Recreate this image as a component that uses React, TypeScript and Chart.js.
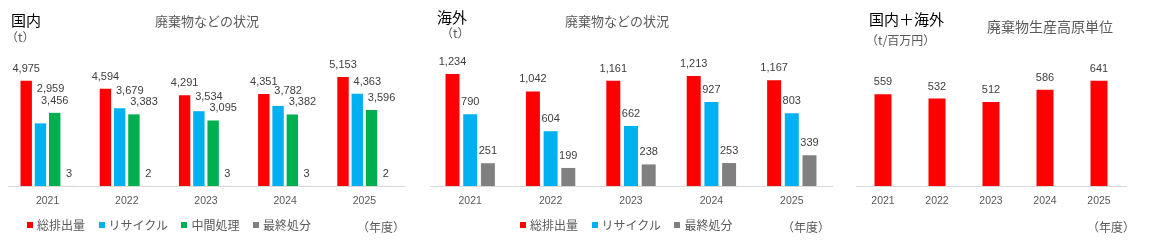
import React, { useEffect, useRef } from 'react';
import { Chart, registerables } from 'chart.js';

Chart.register(...registerables);

// ---------- data ----------
const years = ['2021', '2022', '2023', '2024', '2025'];

const domesticTotal = [4975, 4594, 4291, 4351, 5153];
const domesticRecycle = [2959, 3679, 3534, 3782, 4363];
const domesticIntermediate = [3456, 3383, 3095, 3382, 3596];
const domesticFinal = [3, 2, 3, 3, 2];

const overseasTotal = [1234, 1042, 1161, 1213, 1167];
const overseasRecycle = [790, 604, 662, 927, 803];
const overseasFinal = [251, 199, 238, 253, 339];

const intensity = [559, 532, 512, 586, 641];

const labelTotal = '総排出量';
const labelRecycle = 'リサイクル';
const labelIntermediate = '中間処理';
const labelFinal = '最終処分';

const domesticMax = 6000;
const overseasMax = 1400;
const intensityMax = 700;

// ---------- styles ----------
const RED = '#FF0000';
const BLUE = '#00B0F0';
const GREEN = '#00B050';
const GRAY = '#808080';
const TEXT = '#595959';
const NUM_FONT = '"Liberation Sans", Arial, sans-serif';
const JP_FONT = '"Noto Sans CJK JP", "Noto Sans", sans-serif';

const labelPlugin = {
  id: 'barLabels',
  afterDatasetsDraw(chart: any) {
    const ctx = chart.ctx;
    const metas = chart.data.datasets.map((_: any, i: number) => chart.getDatasetMeta(i));
    const n = chart.data.labels.length;
    const nd = metas.length;
    ctx.save();
    ctx.font = `11px ${NUM_FONT}`;
    ctx.fillStyle = '#404040';
    ctx.textAlign = 'left';
    ctx.textBaseline = 'alphabetic';
    const H = 8;
    // first series first, then the rest from right to left
    const order = [0];
    for (let i = nd - 1; i >= 1; i--) order.push(i);
    for (let j = 0; j < n; j++) {
      const bars = metas.map((m: any) => {
        const p = m.data[j].getProps(['x', 'y', 'base', 'width'], true);
        return { l: p.x - p.width / 2, r: p.x + p.width / 2, t: Math.min(p.y, p.base), cx: p.x };
      });
      const placed: any[] = [];
      order.forEach((i: number) => {
        const b = bars[i];
        const v = chart.data.datasets[i].data[j];
        const text = Number(v).toLocaleString('en-US');
        const w = ctx.measureText(text).width;
        const natural = b.t - 9;
        const hits = (left: number, base: number) => {
          const r = { l: left, r: left + w, t: base - H, b: base };
          for (let k = 0; k < bars.length; k++) {
            if (k === i) continue;
            const o = bars[k];
            if (r.l < o.r && r.r > o.l && r.b + 5 > o.t) return true;
          }
          for (const p of placed) {
            const xo = r.l < p.r + 1 && r.r > p.l - 1;
            const yo = p.t >= r.t ? r.b + 3 > p.t : r.t - 1 < p.b;
            if (xo && yo) return true;
          }
          return false;
        };
        let left = b.cx - w / 2;
        let base = natural;
        if (i > 0 && hits(left, base)) {
          left = b.l + 2;
          while (hits(left, base) && base > 0) base -= 1;
        }
        ctx.fillText(text, left, base);
        placed.push({ l: left, r: left + w, t: base - H, b: base });
      });
    }
    ctx.restore();
  },
};

function makeOptions(max: number, top: number, padL: number, padR: number, catPct: number, barPct: number) {
  return {
    responsive: false,
    maintainAspectRatio: false,
    animation: false as const,
    layout: { padding: { left: padL, right: padR, top, bottom: 0 } },
    datasets: { bar: { categoryPercentage: catPct, barPercentage: barPct } },
    plugins: {
      legend: { display: false },
      tooltip: { enabled: false },
      title: { display: false },
    },
    scales: {
      x: {
        grid: { display: false, drawTicks: false },
        border: { display: true, color: '#D9D9D9', width: 1 },
        ticks: { color: TEXT, font: { family: NUM_FONT, size: 10.5 }, padding: 9 },
        afterFit: (s: any) => {
          s.height = 64;
        },
      },
      y: { display: false, min: 0, max },
    },
  };
}

const abs = (left: number, top: number, size: number, color: string, extra: any = {}) => ({
  position: 'absolute' as const,
  left,
  top,
  fontSize: size,
  lineHeight: 1,
  color,
  fontFamily: JP_FONT,
  whiteSpace: 'nowrap' as const,
  ...extra,
});

function Legend({ left, items }: { left: number; items: { label: string; color: string }[] }) {
  return (
    <div style={{ position: 'absolute', left, top: 219, display: 'flex', alignItems: 'center', gap: 13.5, fontFamily: JP_FONT, fontSize: 12, lineHeight: 1, color: TEXT }}>
      {items.map((it) => (
        <div key={it.label} style={{ display: 'flex', alignItems: 'center' }}>
          <span style={{ display: 'inline-block', width: 6, height: 6, background: it.color, marginRight: 4 }} />
          <span>{it.label}</span>
        </div>
      ))}
    </div>
  );
}

export default function App() {
  const ref1 = useRef<HTMLCanvasElement>(null);
  const ref2 = useRef<HTMLCanvasElement>(null);
  const ref3 = useRef<HTMLCanvasElement>(null);

  useEffect(() => {
    const c1 = new Chart(ref1.current!, {
      type: 'bar',
      data: {
        labels: years,
        datasets: [
          { label: labelTotal, data: domesticTotal, backgroundColor: RED },
          { label: labelRecycle, data: domesticRecycle, backgroundColor: BLUE },
          { label: labelIntermediate, data: domesticIntermediate, backgroundColor: GREEN },
          { label: labelFinal, data: domesticFinal, backgroundColor: GRAY },
        ],
      },
      options: makeOptions(domesticMax, 59, 8, 16, 0.72, 0.8) as any,
      plugins: [labelPlugin],
    });
    const c2 = new Chart(ref2.current!, {
      type: 'bar',
      data: {
        labels: years,
        datasets: [
          { label: labelTotal, data: overseasTotal, backgroundColor: RED },
          { label: labelRecycle, data: overseasRecycle, backgroundColor: BLUE },
          { label: labelFinal, data: overseasFinal, backgroundColor: GRAY },
        ],
      },
      options: makeOptions(overseasMax, 59, 10, 8, 0.66, 0.79) as any,
      plugins: [labelPlugin],
    });
    const c3 = new Chart(ref3.current!, {
      type: 'bar',
      data: {
        labels: years,
        datasets: [{ label: '廃棄物生産高原単位', data: intensity, backgroundColor: RED }],
      },
      options: makeOptions(intensityMax, 71, 16, 24, 0.315, 1) as any,
      plugins: [labelPlugin],
    });
    return () => {
      c1.destroy();
      c2.destroy();
      c3.destroy();
    };
  }, []);

  return (
    <div style={{ position: 'absolute', left: 0, top: 0, width: 1150, height: 250, background: '#fff', overflow: 'hidden' }}>
      <canvas ref={ref1} width={420} height={250} style={{ position: 'absolute', left: 0, top: 0, width: 420, height: 250 }} />
      <canvas ref={ref2} width={420} height={250} style={{ position: 'absolute', left: 420, top: 0, width: 420, height: 250 }} />
      <canvas ref={ref3} width={310} height={250} style={{ position: 'absolute', left: 840, top: 0, width: 310, height: 250 }} />

      {/* panel 1 */}
      <div style={abs(11, 12, 15, '#000')}>国内</div>
      <div style={abs(6, 31, 12, TEXT)}>（t）</div>
      <div style={abs(155, 14, 13, TEXT)}>廃棄物などの状況</div>
      <Legend
        left={27}
        items={[
          { label: labelTotal, color: RED },
          { label: labelRecycle, color: BLUE },
          { label: labelIntermediate, color: GREEN },
          { label: labelFinal, color: GRAY },
        ]}
      />
      <div style={abs(357, 221, 12, TEXT)}>（年度）</div>

      {/* panel 2 */}
      <div style={abs(437, 9, 15, '#000')}>海外</div>
      <div style={abs(441, 27, 12, TEXT)}>（t）</div>
      <div style={abs(565, 14, 13, TEXT)}>廃棄物などの状況</div>
      <Legend
        left={520}
        items={[
          { label: labelTotal, color: RED },
          { label: labelRecycle, color: BLUE },
          { label: labelFinal, color: GRAY },
        ]}
      />
      <div style={abs(782, 221, 12, TEXT)}>（年度）</div>

      {/* panel 3 */}
      <div style={abs(869, 11, 15, '#000')}>国内＋海外</div>
      <div style={abs(866, 34, 12, TEXT)}>（t/百万円）</div>
      <div style={abs(987, 19, 14, TEXT)}>廃棄物生産高原単位</div>
      <div style={abs(1087, 221, 12, TEXT)}>（年度）</div>
    </div>
  );
}
